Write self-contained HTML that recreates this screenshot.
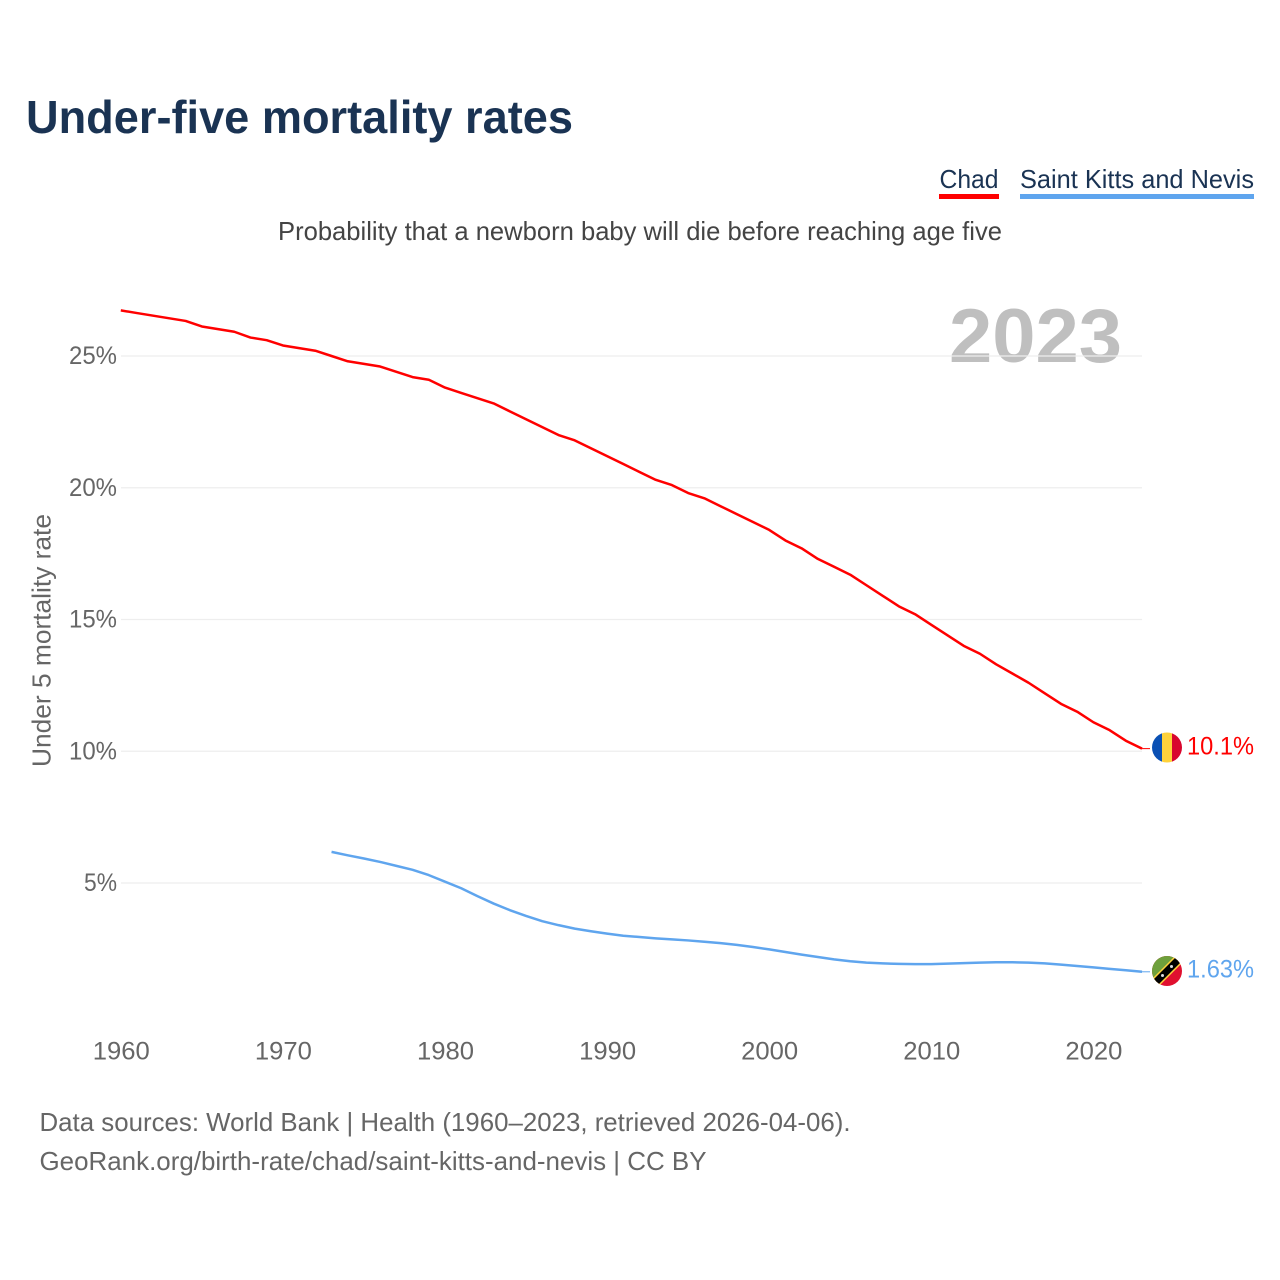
<!DOCTYPE html>
<html lang="en">
<head>
<meta charset="utf-8">
<title>Under-five mortality rates</title>
<style>
html,body{margin:0;padding:0;background:#fff;}
svg{display:block;font-family:"Liberation Sans",sans-serif;}
</style>
</head>
<body>
<svg id="chart" xmlns="http://www.w3.org/2000/svg" width="1280" height="1280" viewBox="0 0 1280 1280">
  <defs>
    <clipPath id="flag-clip-a"><circle cx="1167" cy="747.5" r="15"/></clipPath>
    <clipPath id="flag-clip-b"><circle cx="1167" cy="971" r="15"/></clipPath>
  </defs>
  <rect width="1280" height="1280" fill="#fff"/>
  <text x="26" y="133" font-size="46" font-weight="700" fill="#1a3353" textLength="547" lengthAdjust="spacingAndGlyphs">Under-five mortality rates</text>
  <g>
    <text x="939.5" y="188" font-size="26" fill="#1a3353" textLength="59" lengthAdjust="spacingAndGlyphs">Chad</text>
    <rect x="939" y="194" width="60" height="5" fill="#ff0000"/>
  </g>
  <g>
    <text x="1020" y="188" font-size="26" fill="#1a3353" textLength="234" lengthAdjust="spacingAndGlyphs">Saint Kitts and Nevis</text>
    <rect x="1020" y="194" width="234" height="5" fill="#5fa5ee"/>
  </g>
  <text x="278" y="240" font-size="26" fill="#444" textLength="724" lengthAdjust="spacingAndGlyphs">Probability that a newborn baby will die before reaching age five</text>
  <text x="949" y="362" font-size="76" font-weight="700" fill="#bfbfbf" textLength="173" lengthAdjust="spacingAndGlyphs">2023</text>
  <text transform="translate(50.5 767) rotate(-90)" font-size="26" fill="#666" textLength="253" lengthAdjust="spacingAndGlyphs">Under 5 mortality rate</text>
  <g id="grid"></g>
  <g id="yticks"></g>
  <g id="xticks"></g>
  <g id="series"></g>
  <g clip-path="url(#flag-clip-a)">
    <rect x="1152" y="732" width="10" height="31" fill="#0a50b4"/>
    <rect x="1162" y="732" width="10" height="31" fill="#fed23c"/>
    <rect x="1172" y="732" width="10" height="31" fill="#d8062e"/>
  </g>
  <g clip-path="url(#flag-clip-b)">
    <rect x="1152" y="956" width="30" height="30" fill="#e0102f"/>
    <polygon points="1152,956 1182,956 1152,986" fill="#6ea03c"/>
    <line x1="1152" y1="986" x2="1182" y2="956" stroke="#fed23c" stroke-width="10"/>
    <line x1="1152" y1="986" x2="1182" y2="956" stroke="#000" stroke-width="7"/>
    <circle cx="1162.5" cy="975.5" r="1.5" fill="#ddd"/>
    <circle cx="1171.5" cy="966.5" r="1.5" fill="#ddd"/>
  </g>
  <text id="label-chad" x="1187" y="754.5" font-size="25" fill="#ff0000" textLength="67" lengthAdjust="spacingAndGlyphs"></text>
  <text id="label-kn" x="1187" y="977.5" font-size="25" fill="#5fa5ee" textLength="67" lengthAdjust="spacingAndGlyphs"></text>
  <text x="39.5" y="1131" font-size="26" fill="#666" textLength="811" lengthAdjust="spacingAndGlyphs">Data sources: World Bank | Health (1960–2023, retrieved 2026-04-06).</text>
  <text x="39.5" y="1170" font-size="26" fill="#666" textLength="667" lengthAdjust="spacingAndGlyphs">GeoRank.org/birth-rate/chad/saint-kitts-and-nevis | CC BY</text>
</svg>
<script>
const yTickValues = [5, 10, 15, 20, 25];
const xTickYears = [1960, 1970, 1980, 1990, 2000, 2010, 2020];
const chadStartYear = 1960;
const chadValues = [26.73,26.63,26.53,26.43,26.33,26.12,26.02,25.92,25.7,25.6,25.4,25.3,25.2,25.0,24.8,24.7,24.6,24.4,24.2,24.1,23.8,23.6,23.4,23.2,22.9,22.6,22.3,22.0,21.8,21.5,21.2,20.9,20.6,20.3,20.1,19.8,19.6,19.3,19.0,18.7,18.4,18.0,17.7,17.3,17.0,16.7,16.3,15.9,15.5,15.2,14.8,14.4,14.0,13.7,13.3,12.95,12.6,12.2,11.8,11.5,11.1,10.8,10.4,10.1];
const kittsStartYear = 1973;
const kittsValues = [6.18,6.05,5.93,5.8,5.65,5.5,5.3,5.05,4.8,4.5,4.22,3.97,3.75,3.55,3.4,3.27,3.17,3.08,3.0,2.95,2.9,2.86,2.82,2.77,2.72,2.65,2.57,2.48,2.38,2.28,2.19,2.1,2.03,1.98,1.95,1.93,1.92,1.92,1.94,1.96,1.98,1.99,1.99,1.98,1.95,1.9,1.85,1.8,1.74,1.69,1.63];

const NS = 'http://www.w3.org/2000/svg';
function xScale(year) { return 120.8 + (year - 1960) * 16.21; }
function yScale(v) { return 1014.75 - v * 26.35; }
function digits(v, d) { return v.toFixed(d); }

const grid = document.getElementById('grid');
const yticks = document.getElementById('yticks');
const xticks = document.getElementById('xticks');
const series = document.getElementById('series');

yTickValues.forEach(function (v) {
  const line = document.createElementNS(NS, 'line');
  
  
  line.setAttribute('x1', 121);
  line.setAttribute('x2', xScale(2023));
  line.setAttribute('y1', yScale(v));
  line.setAttribute('y2', yScale(v));
  line.setAttribute('stroke', '#eeeeee');
  line.setAttribute('stroke-width', 1.3);
  grid.appendChild(line);

  const t = document.createElementNS(NS, 'text');
  
  
  t.setAttribute('x', v < 10 ? 84 : 69);
  t.setAttribute('y', yScale(v) + 8.2);
  t.setAttribute('font-size', 25);
  t.setAttribute('fill', '#666');
  t.setAttribute('textLength', v < 10 ? 33 : 48);
  t.setAttribute('lengthAdjust', 'spacingAndGlyphs');
  t.textContent = v + '%';
  yticks.appendChild(t);
});

xTickYears.forEach(function (year) {
  const t = document.createElementNS(NS, 'text');
  
  
  t.setAttribute('x', xScale(year) - 28.5 + 0.5);
  t.setAttribute('y', 1059.5);
  t.setAttribute('font-size', 25);
  t.setAttribute('fill', '#666');
  t.setAttribute('textLength', 57);
  t.setAttribute('lengthAdjust', 'spacingAndGlyphs');
  t.textContent = String(year);
  xticks.appendChild(t);
});

function drawSeries(values, startYear, color, lineName, connectorName) {
  const pts = values.map(function (v, i) {
    return xScale(startYear + i).toFixed(2) + ',' + yScale(v).toFixed(2);
  }).join(' ');
  const p = document.createElementNS(NS, 'polyline');
  
  
  p.setAttribute('points', pts);
  p.setAttribute('fill', 'none');
  p.setAttribute('stroke', color);
  p.setAttribute('stroke-width', 2.5);
  p.setAttribute('stroke-linejoin', 'round');
  series.appendChild(p);

  const lastY = yScale(values[values.length - 1]);
  const c = document.createElementNS(NS, 'line');
  
  
  c.setAttribute('x1', xScale(startYear + values.length - 1));
  c.setAttribute('x2', 1150);
  c.setAttribute('y1', lastY);
  c.setAttribute('y2', lastY);
  c.setAttribute('stroke', color);
  c.setAttribute('stroke-width', 1);
  series.appendChild(c);
}
drawSeries(chadValues, chadStartYear, '#ff0000', 'line-chad', 'connector-chad');
drawSeries(kittsValues, kittsStartYear, '#5fa5ee', 'line-saint-kitts', 'connector-saint-kitts');

document.getElementById('label-chad').textContent = digits(chadValues[chadValues.length - 1], 1) + '%';
document.getElementById('label-kn').textContent = digits(kittsValues[kittsValues.length - 1], 2) + '%';
</script>
</body>
</html>
